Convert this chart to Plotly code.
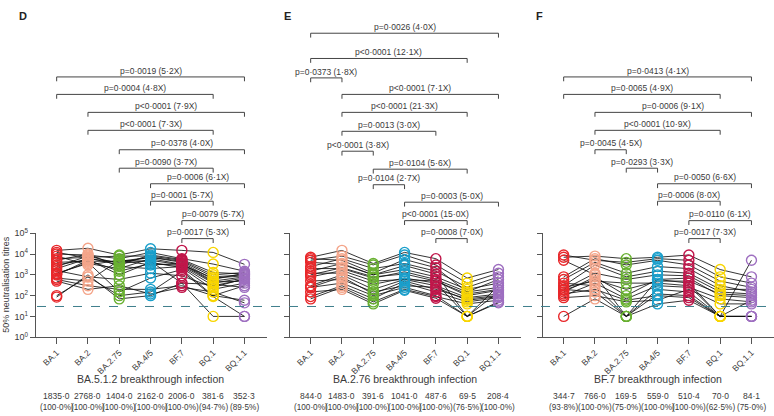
import plotly.graph_objects as go

W, H = 774, 416

variants = ["BA.1", "BA.2", "BA.2.75", "BA.4/5", "BF.7", "BQ.1", "BQ.1.1"]
variant_colors = ["#e8282b", "#f4a58a", "#68b030", "#1a9fcb", "#c0164a", "#f8d500", "#9e6fc0"]

# ---------------- Panel D: BA.5.1.2 breakthrough (n=19) ----------------
d_ba1 = [15000, 12000, 10000, 8000, 6000, 5000, 4000, 3000, 2500, 2000, 1600, 1200, 1100, 1000, 700, 600, 500, 100, 85]
d_ba2 = [19000, 6500, 9000, 3000, 7000, 10000, 4500, 5500, 8000, 6000, 800, 3500, 4000, 5000, 500, 300, 200, 800, 1000]
d_ba275 = [9000, 3000, 6000, 5000, 8000, 2500, 4500, 1000, 3500, 4000, 600, 2000, 150, 1500, 5000, 200, 300, 100, 70]
d_ba45 = [18000, 9000, 12000, 3000, 8000, 2000, 7000, 4000, 5000, 7000, 1200, 6000, 700, 3500, 4500, 200, 120, 150, 100]
d_bf7 = [15000, 5500, 6000, 3500, 5000, 2500, 4500, 2200, 3000, 4000, 900, 3200, 1800, 2800, 400, 300, 250, 1500, 400]
d_bq1 = [12000, 1300, 3300, 500, 1000, 300, 800, 200, 700, 600, 250, 450, 100, 400, 350, 100, 150, 90, 10]
d_bq11 = [3200, 1100, 1500, 800, 1300, 600, 1000, 400, 900, 1200, 650, 500, 300, 700, 250, 60, 45, 10, 10]
d_gmt = ["1835·0", "2768·0", "1404·0", "2162·0", "2006·0", "381·6", "352·3"]
d_pct = ["(100·0%)", "(100·0%)", "(100·0%)", "(100·0%)", "(100·0%)", "(94·7%)", "(89·5%)"]
d_title = "BA.5.1.2 breakthrough infection"
d_brackets = [(0, 6, "p=0·0019 (5·2X)"), (0, 5, "p=0·0004 (4·8X)"), (1, 6, "p<0·0001 (7·9X)"),
              (1, 5, "p<0·0001 (7·3X)"), (2, 6, "p=0·0378 (4·0X)"), (2, 5, "p=0·0090 (3·7X)"),
              (3, 6, "p=0·0006 (6·1X)"), (3, 5, "p=0·0001 (5·7X)"), (4, 6, "p=0·0079 (5·7X)"),
              (4, 5, "p=0·0017 (5·3X)")]

# ---------------- Panel E: BA.2.76 breakthrough (n=17) ----------------
e_ba1 = [7000, 6000, 5000, 4000, 2500, 2000, 1500, 1200, 1000, 800, 500, 300, 250, 250, 150, 90, 70]
e_ba2 = [15000, 5000, 8000, 3200, 6000, 2000, 3500, 1200, 2200, 1600, 600, 1000, 400, 800, 200, 300, 250]
e_ba275 = [3500, 1200, 3000, 1000, 2000, 700, 1000, 350, 800, 500, 150, 200, 100, 120, 40, 70, 50]
e_ba45 = [12000, 5500, 9000, 2800, 3500, 1400, 1800, 700, 1100, 600, 300, 600, 250, 500, 180, 400, 200]
e_bf7 = [6000, 2200, 3000, 1100, 1500, 600, 800, 400, 500, 500, 250, 300, 100, 200, 75, 150, 90]
e_bq1 = [700, 150, 400, 10, 250, 150, 200, 10, 120, 100, 60, 80, 10, 70, 10, 50, 40]
e_bq11 = [1800, 600, 1200, 300, 800, 250, 400, 150, 200, 180, 90, 120, 50, 100, 45, 80, 60]
e_gmt = ["844·0", "1483·0", "391·6", "1041·0", "487·6", "69·5", "208·4"]
e_pct = ["(100·0%)", "(100·0%)", "(100·0%)", "(100·0%)", "(100·0%)", "(76·5%)", "(100·0%)"]
e_title = "BA.2.76 breakthrough infection"
e_brackets = [(0, 6, "p=0·0026 (4·0X)"), (0, 5, "p<0·0001 (12·1X)"), (0, 1, "p=0·0373 (1·8X)"),
              (1, 6, "p<0·0001 (7·1X)"), (1, 5, "p<0·0001 (21·3X)"), (1, 4, "p=0·0013 (3·0X)"),
              (1, 2, "p<0·0001 (3·8X)"), (2, 5, "p=0·0104 (5·6X)"), (2, 3, "p=0·0104 (2·7X)"),
              (3, 6, "p=0·0003 (5·0X)"), (3, 5, "p<0·0001 (15·0X)"), (4, 5, "p=0·0008 (7·0X)")]

# ---------------- Panel F: BF.7 breakthrough (n=16) ----------------
f_ba1 = [9000, 7000, 5000, 800, 600, 400, 300, 250, 200, 200, 180, 150, 120, 100, 80, 10]
f_ba2 = [5000, 8000, 1000, 6000, 4000, 300, 3000, 500, 1200, 150, 600, 800, 200, 400, 100, 70]
f_ba275 = [4000, 6000, 10, 3000, 1200, 10, 800, 400, 600, 10, 200, 100, 60, 70, 50, 10]
f_ba45 = [6000, 7000, 600, 5000, 2500, 200, 1500, 400, 1000, 120, 500, 600, 100, 300, 60, 40]
f_bf7 = [5000, 9000, 400, 3000, 2000, 150, 1200, 300, 900, 100, 500, 700, 80, 250, 200, 60]
f_bq1 = [800, 1800, 10, 500, 300, 10, 200, 10, 150, 10, 120, 100, 10, 70, 40, 10]
f_bq11 = [400, 800, 5000, 250, 150, 10, 200, 60, 120, 10, 100, 80, 10, 50, 40, 10]
f_gmt = ["344·7", "766·0", "169·5", "559·0", "510·4", "70·0", "84·1"]
f_pct = ["(93·8%)", "(100·0%)", "(75·0%)", "(100·0%)", "(100·0%)", "(62·5%)", "(75·0%)"]
f_title = "BF.7 breakthrough infection"
f_brackets = [(0, 6, "p=0·0413 (4·1X)"), (0, 5, "p=0·0065 (4·9X)"), (1, 6, "p=0·0006 (9·1X)"),
              (1, 5, "p<0·0001 (10·9X)"), (1, 2, "p=0·0045 (4·5X)"), (2, 3, "p=0·0293 (3·3X)"),
              (3, 6, "p=0·0050 (6·6X)"), (3, 5, "p=0·0006 (8·0X)"), (4, 6, "p=0·0110 (6·1X)"),
              (4, 5, "p=0·0017 (7·3X)")]

lod = 30
ytick_vals = [1, 10, 100, 1000, 10000, 100000]
ytick_text = ["10<sup>0</sup>", "10<sup>1</sup>", "10<sup>2</sup>", "10<sup>3</sup>", "10<sup>4</sup>", "10<sup>5</sup>"]

# ---------------- layout helpers (pixel geometry) ----------------
FONT = "Liberation Sans, Arial, sans-serif"
TXT = "#3a3a3a"
AX = "#555555"


def px(x):
    return x / W


def py(y):
    return 1 - y / H


panel_left = [36, 290, 543]
panel_w = 231
y_top, y_bot = 233, 340
xr = [-0.66, 6.72]
levels_df = [72, 90, 108.5, 127, 147, 166, 182, 200, 220, 238.5]
levels_e = [27, 53, 73, 90, 108.5, 128, 148.5, 167, 183, 201, 220, 238.5]

panels = [
    dict(series=[d_ba1, d_ba2, d_ba275, d_ba45, d_bf7, d_bq1, d_bq11], gmt=d_gmt, pct=d_pct,
         title=d_title, brackets=d_brackets, levels=levels_df, letter="D"),
    dict(series=[e_ba1, e_ba2, e_ba275, e_ba45, e_bf7, e_bq1, e_bq11], gmt=e_gmt, pct=e_pct,
         title=e_title, brackets=e_brackets, levels=levels_e, letter="E"),
    dict(series=[f_ba1, f_ba2, f_ba275, f_ba45, f_bf7, f_bq1, f_bq11], gmt=f_gmt, pct=f_pct,
         title=f_title, brackets=f_brackets, levels=levels_df, letter="F"),
]

fig = go.Figure()
shapes = []
annotations = []
layout_axes = {}

for k, p in enumerate(panels):
    xa = "x" if k == 0 else f"x{k+1}"
    ya = "y" if k == 0 else f"y{k+1}"
    xname = "xaxis" if k == 0 else f"xaxis{k+1}"
    yname = "yaxis" if k == 0 else f"yaxis{k+1}"
    left = panel_left[k]

    layout_axes[xname] = dict(
        domain=[px(left), px(left + panel_w)], range=xr, anchor=ya,
        showline=True, linecolor=AX, linewidth=1.3, ticks="outside", ticklen=6,
        tickcolor=AX, tickwidth=1.2, tickvals=list(range(len(variants))), ticktext=variants,
        tickangle=-45, tickfont=dict(size=8.5, color=TXT, family=FONT),
        showgrid=False, zeroline=False, fixedrange=True)
    layout_axes[yname] = dict(
        domain=[py(y_bot), py(y_top)], type="log", range=[0, 5], anchor=xa,
        showline=True, linecolor=AX, linewidth=1.3, ticks="outside", ticklen=5,
        tickcolor=AX, tickwidth=1.2, tickvals=ytick_vals, ticktext=ytick_text,
        showticklabels=(k == 0), tickfont=dict(size=9, color=TXT, family=FONT),
        showgrid=False, zeroline=False, fixedrange=True)

    # individual lines
    n = len(p["series"][0])
    lx, ly = [], []
    for i in range(n):
        for j in range(len(variants)):
            lx.append(j)
            ly.append(p["series"][j][i])
        lx.append(None)
        ly.append(None)
    fig.add_trace(go.Scatter(x=lx, y=ly, mode="lines", xaxis=xa, yaxis=ya,
                             line=dict(color="#111111", width=0.85), hoverinfo="skip",
                             showlegend=False))
    # markers
    for j, vals in enumerate(p["series"]):
        fig.add_trace(go.Scatter(x=[j] * len(vals), y=vals, mode="markers", xaxis=xa, yaxis=ya,
                                 marker=dict(symbol="circle-open", size=10, color=variant_colors[j],
                                             line=dict(width=1.4, color=variant_colors[j])),
                                 name=variants[j], showlegend=False))

    # brackets
    for (a, b, label), lvl in zip(p["brackets"], p["levels"]):
        shapes.append(dict(type="path", xref=xa, yref="paper",
                           path=f"M {a},{py(lvl + 4.5)} L {a},{py(lvl)} L {b},{py(lvl)} L {b},{py(lvl + 4.5)}",
                           line=dict(color="#444444", width=1)))
        annotations.append(dict(x=(a + b) / 2, y=py(lvl - 6.5), xref=xa, yref="paper",
                                text=label, showarrow=False, xanchor="center", yanchor="middle",
                                font=dict(size=8.5, color=TXT, family=FONT)))

    # bottom texts
    annotations.append(dict(x=3, y=py(383), xref=xa, yref="paper", text=p["title"], showarrow=False,
                            xanchor="center", yanchor="middle",
                            font=dict(size=10.5, color=TXT, family=FONT)))
    for j in range(len(variants)):
        annotations.append(dict(x=j, y=py(400.5), xref=xa, yref="paper", text=p["gmt"][j],
                                showarrow=False, xanchor="center", yanchor="middle",
                                font=dict(size=8.5, color=TXT, family=FONT)))
        annotations.append(dict(x=j, y=py(412), xref=xa, yref="paper", text=p["pct"][j],
                                showarrow=False, xanchor="center", yanchor="middle",
                                font=dict(size=8.2, color=TXT, family=FONT)))
    # panel letter
    annotations.append(dict(x=px([23, 287, 539][k]), y=py(9), xref="paper", yref="paper",
                            text=f"<b>{p['letter']}</b>", showarrow=False, xanchor="center",
                            yanchor="middle", font=dict(size=11, color="#222222", family=FONT)))

# limit of detection line
shapes.append(dict(type="line", xref="paper", yref="y", x0=px(37), x1=1, y0=lod, y1=lod,
                   line=dict(color="#3f7f8c", width=1, dash="dash")))

# y-axis title
annotations.append(dict(x=px(6), y=py(286), xref="paper", yref="paper",
                        text="50% neutralisation titres", textangle=-90, showarrow=False,
                        xanchor="center", yanchor="middle",
                        font=dict(size=9, color=TXT, family=FONT)))

fig.update_layout(width=W, height=H, margin=dict(l=0, r=0, t=0, b=0),
                  paper_bgcolor="white", plot_bgcolor="white", showlegend=False,
                  shapes=shapes, annotations=annotations, font=dict(family=FONT),
                  **layout_axes)

fig.write_html("out.html", config={"displayModeBar": False},
               post_script="document.body.style.margin='0px';document.body.style.padding='0px';")
